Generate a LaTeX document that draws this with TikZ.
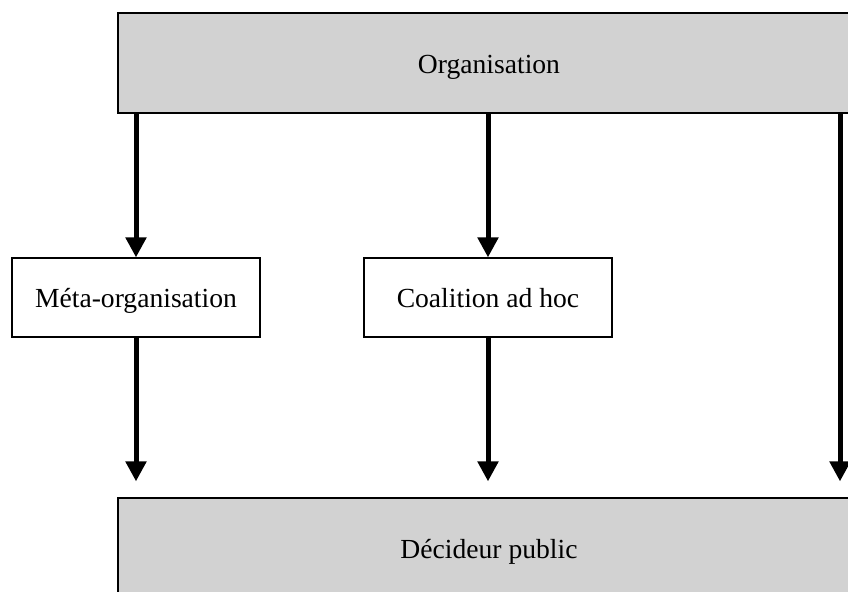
\documentclass[tikz,border=0pt]{standalone}
\usepackage{fontspec}
\setmainfont{Liberation Serif}
\usepackage{tikz}
\usetikzlibrary{arrows.meta}
\usepackage{xcolor}
\definecolor{boxgray}{RGB}{210,210,210}

\begin{document}
\begin{tikzpicture}[x=0.5pt, y=-0.5pt,
    bigbox/.style={draw, line width=0.6pt, fill=boxgray, inner sep=0pt,
        text height=12pt, text depth=2pt,
        minimum width=371pt, minimum height=50pt},
    midbox/.style={draw, line width=0.6pt, fill=white, inner sep=0pt,
        text height=12pt, text depth=2pt,
        minimum width=124pt, minimum height=39.5pt},
    flow/.style={line width=2.5pt, -{Triangle[width=10pt, length=10pt]}}]

    % Fix the size of the page
    \useasboundingbox (0,0) rectangle (848,591);
    \fontsize{13.8}{16}\selectfont

    % Draw the upper and lower boxes
    \node[bigbox] (org) at (489,63) {Organisation};
    \node[bigbox] (dec) at (489,548) {Décideur public};

    % Draw the two intermediary boxes
    \node[midbox] (meta) at (136,297.5) {Méta-organisation};
    \node[midbox] (coal) at (488,297.5) {Coalition ad hoc};

    % Direct route on the right
    \coordinate (direct) at (840,0);

    % Draw arrows from the organisation down
    \draw[flow] (org.south -| meta) -- (meta.north);
    \draw[flow] (org.south -| coal) -- (coal.north);
    \draw[flow, shorten >=8pt] (org.south -| direct) -- (direct |- dec.north);

    % Draw arrows towards the public decision maker
    \draw[flow, shorten >=8pt] (meta.south) -- (meta.south |- dec.north);
    \draw[flow, shorten >=8pt] (coal.south) -- (coal.south |- dec.north);

\end{tikzpicture}
\end{document}
